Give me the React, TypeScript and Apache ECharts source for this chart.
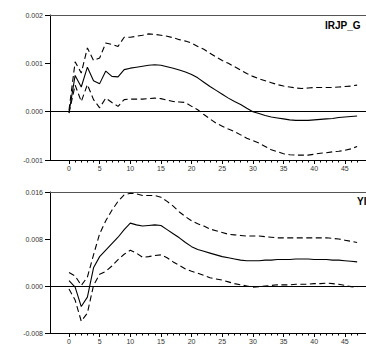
import React, { useEffect, useRef } from "react";
import * as echarts from "echarts";

const steps: number[] = Array.from({ length: 48 }, (_, i) => i);
const majorTicks: number[] = [0, 5, 10, 15, 20, 25, 30, 35, 40, 45];

const topTitle = "IRJP_G";
const bottomTitle = "YI";

const topMedian: number[] = [
  -0.00002, 0.00075, 0.00051, 0.00092, 0.00064, 0.00058, 0.00084, 0.00073, 0.00072, 0.00087,
  0.0009, 0.00092, 0.00094, 0.00096, 0.00097, 0.00096, 0.00093, 0.0009, 0.00086, 0.00082,
  0.00077, 0.0007, 0.00061, 0.00052, 0.00044, 0.00036, 0.00028, 0.00021, 0.00015, 0.00007,
  0.0, -0.00004, -0.00008, -0.00011, -0.00013, -0.00015, -0.00017, -0.00018, -0.00018, -0.00018,
  -0.00017, -0.00016, -0.00015, -0.00014, -0.00012, -0.00011, -0.0001, -0.00009,
];
const topUpper: number[] = [
  0.00003, 0.00103, 0.0008, 0.00132, 0.00106, 0.00111, 0.00142, 0.00139, 0.00135, 0.00154,
  0.00154, 0.00156, 0.00158, 0.00161, 0.0016, 0.00158, 0.00156, 0.00153, 0.00149, 0.00146,
  0.00142, 0.00135, 0.00129, 0.00121, 0.00113, 0.00106, 0.001, 0.00093, 0.00086, 0.00079,
  0.00073, 0.00068, 0.00064, 0.0006, 0.00056, 0.00053, 0.00051, 0.00049, 0.00048, 0.00049,
  0.0005, 0.0005, 0.0005, 0.0005, 0.00051, 0.00052, 0.00053, 0.00055,
];
const topLower: number[] = [
  -0.00003, 0.00055, 0.00021, 0.00056, 0.00025, 0.00008, 0.00028, 0.00019, 0.00011, 0.00025,
  0.00026, 0.00026, 0.00026, 0.00027, 0.00028, 0.00027, 0.00024, 0.00021, 0.0002, 0.00019,
  0.00011, 0.00004, -0.00006, -0.00015, -0.00024, -0.0003, -0.00036, -0.00041, -0.00048, -0.00055,
  -0.0006, -0.00065, -0.00072, -0.00079, -0.00083, -0.00087, -0.00089, -0.0009, -0.0009, -0.0009,
  -0.00088, -0.00086, -0.00085, -0.00083, -0.00082, -0.0008, -0.00077, -0.00072,
];

const bottomMedian: number[] = [
  0.0009, -0.0002, -0.0035, -0.0019, 0.0031, 0.005, 0.0061, 0.0072, 0.0083, 0.0096,
  0.0107, 0.0104, 0.0102, 0.0103, 0.0104, 0.0103, 0.0096, 0.0089, 0.0082, 0.0074,
  0.0067, 0.0062, 0.0059, 0.0056, 0.0053, 0.005, 0.0048, 0.0046, 0.0044, 0.0043,
  0.0043, 0.0043, 0.0044, 0.0044, 0.0045, 0.0045, 0.0045, 0.0046, 0.0046, 0.0046,
  0.0045, 0.0045, 0.0045, 0.0044, 0.0044, 0.0043, 0.0042, 0.0041,
];
const bottomUpper: number[] = [
  0.0023, 0.0017, 0.0001, 0.0015, 0.0053, 0.0089, 0.0111, 0.0129, 0.0144, 0.0155,
  0.0158, 0.0157, 0.0154, 0.0154, 0.0154, 0.0151, 0.0144, 0.0136, 0.0126, 0.0118,
  0.0111, 0.0106, 0.0102, 0.0097, 0.0094, 0.0091, 0.0088, 0.0087, 0.0086, 0.0085,
  0.0085, 0.0085, 0.0084, 0.0083, 0.0082, 0.0082, 0.0082, 0.0082, 0.0082, 0.0082,
  0.0082, 0.0082, 0.0082, 0.0081, 0.008, 0.0078, 0.0076, 0.0074,
];
const bottomLower: number[] = [
  -0.0005, -0.0024, -0.006, -0.0046, 0.0001, 0.002, 0.0025, 0.0034, 0.0045, 0.0054,
  0.0061, 0.0056, 0.0049, 0.005, 0.0052, 0.0053, 0.0048, 0.0041, 0.0035, 0.0029,
  0.0025, 0.0022, 0.0018, 0.0014, 0.0012, 0.001, 0.0007, 0.0004, 0.0002, 0.0,
  -0.0002, -0.0001, 0.0, 0.0001, 0.0002, 0.0002, 0.0002, 0.0003, 0.0003, 0.0003,
  0.0004, 0.0004, 0.0005, 0.0004, 0.0003, 0.0001, -0.0001, -0.0002,
];

const FONT = "'Liberation Sans', Arial, sans-serif";
const X_MIN = -3.1;
const X_MAX = 48.45;

function pairs(vals: number[]): number[][] {
  return steps.map((s, i) => [s, vals[i]]);
}

function xAxesFor(gridIndex: number) {
  return [
    {
      type: "value",
      gridIndex,
      position: "bottom",
      min: X_MIN,
      max: X_MAX,
      axisLine: { show: true, onZero: false, lineStyle: { color: "#000", width: 1 } },
      axisTick: { show: true, length: 4, customValues: majorTicks, lineStyle: { color: "#000" } },
      axisLabel: {
        show: true,
        customValues: majorTicks,
        fontSize: 7,
        fontFamily: FONT,
        color: "#333",
        margin: 5,
        formatter: (v: number) => String(Math.round(v)),
      },
      splitLine: { show: false },
    },
    {
      type: "value",
      gridIndex,
      position: "bottom",
      min: X_MIN,
      max: X_MAX,
      axisLine: { show: false, onZero: false },
      axisTick: { show: true, length: 2.5, customValues: steps, lineStyle: { color: "#000" } },
      axisLabel: { show: false },
      splitLine: { show: false },
    },
    {
      type: "value",
      gridIndex,
      position: "top",
      min: X_MIN,
      max: X_MAX,
      axisLine: { show: true, onZero: false, lineStyle: { color: "#555", width: 1 } },
      axisTick: { show: false },
      axisLabel: { show: false },
      splitLine: { show: false },
    },
  ];
}

function yAxisFor(gridIndex: number, min: number, max: number, interval: number) {
  return {
    type: "value",
    gridIndex,
    min,
    max,
    interval,
    axisLine: { show: true, onZero: false, lineStyle: { color: "#000", width: 1 } },
    axisTick: { show: true, length: 5, lineStyle: { color: "#000" } },
    axisLabel: {
      fontSize: 7,
      fontFamily: FONT,
      color: "#333",
      margin: 7,
      formatter: (v: number) => v.toFixed(3),
    },
    splitLine: { show: false },
  };
}

function seriesFor(gridIdx: number, median: number[], upper: number[], lower: number[]) {
  const xAxisIndex = gridIdx * 3;
  const yAxisIndex = gridIdx;
  const base = {
    type: "line",
    xAxisIndex,
    yAxisIndex,
    symbol: "none",
    silent: true,
  };
  return [
    {
      ...base,
      name: "median" + gridIdx,
      data: pairs(median),
      lineStyle: { color: "#000", width: 1.1, type: "solid" },
      markLine: {
        silent: true,
        symbol: "none",
        label: { show: false },
        lineStyle: { color: "#000", width: 1, type: "solid" },
        data: [{ yAxis: 0 }],
      },
    },
    {
      ...base,
      name: "upper" + gridIdx,
      data: pairs(upper),
      lineStyle: { color: "#000", width: 1.1, type: [6, 3.5] },
    },
    {
      ...base,
      name: "lower" + gridIdx,
      data: pairs(lower),
      lineStyle: { color: "#000", width: 1.1, type: [6, 3.5] },
    },
  ];
}

export default function App() {
  const ref = useRef<HTMLDivElement>(null);
  useEffect(() => {
    if (!ref.current) return;
    const chart = echarts.init(ref.current, null, { renderer: "svg" });
    chart.setOption({
      animation: false,
      backgroundColor: "#fff",
      grid: [
        { left: 50, top: 15, width: 316, height: 145 },
        { left: 50, top: 192, width: 316, height: 144 },
      ],
      xAxis: [...xAxesFor(0), ...xAxesFor(1)],
      yAxis: [
        yAxisFor(0, -0.001, 0.002, 0.001),
        yAxisFor(1, -0.008, 0.016, 0.008),
      ],
      graphic: [
        {
          type: "text",
          left: 325,
          top: 20,
          style: { text: topTitle, font: `bold 10px ${FONT}`, fill: "#000" },
        },
        {
          type: "text",
          left: 357,
          top: 196,
          style: { text: bottomTitle, font: `bold 10px ${FONT}`, fill: "#000" },
        },
      ],
      series: [
        ...seriesFor(0, topMedian, topUpper, topLower),
        ...seriesFor(1, bottomMedian, bottomUpper, bottomLower),
      ],
    });
    return () => chart.dispose();
  }, []);
  return (
    <div
      ref={ref}
      style={{ position: "absolute", left: 0, top: 0, width: 366, height: 345 }}
    />
  );
}
